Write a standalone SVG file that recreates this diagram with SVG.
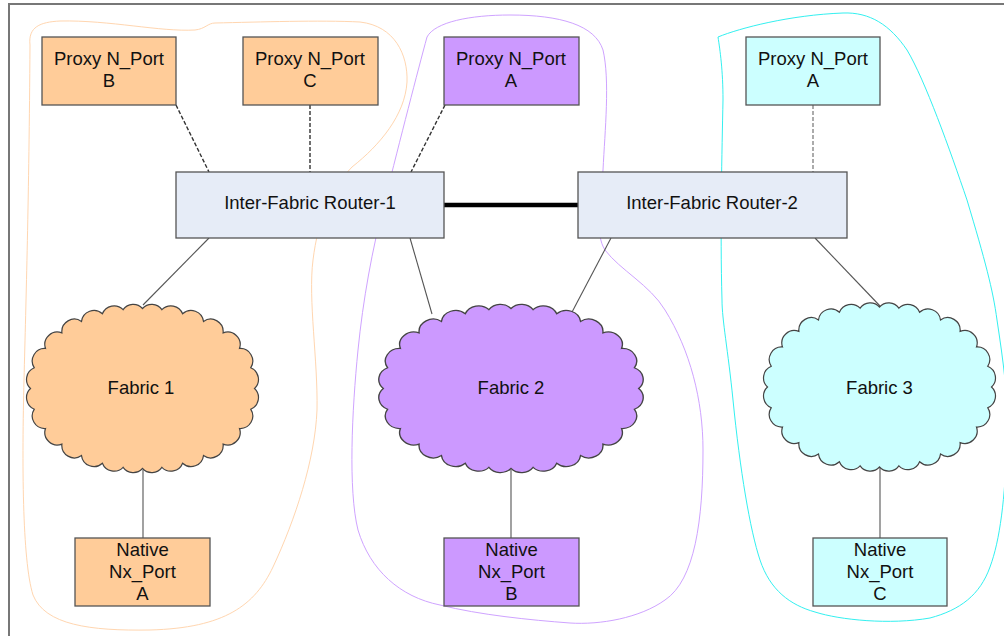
<svg xmlns="http://www.w3.org/2000/svg" xmlns:xlink="http://www.w3.org/1999/xlink" width="1004" height="636" viewBox="0 0 1004 636">
  <style>
    .lbl { font-family: "Liberation Sans", Arial, sans-serif; font-size: 18.5px; fill: #111; text-anchor: middle; }
    .box { stroke: #555; stroke-width: 1.3; }
    .orange { fill: #FFCC99; }
    .purple { fill: #CC99FF; }
    .cyan { fill: #CCFFFF; }
    .router { fill: #E6ECF7; }
    .cloud { stroke: #444; stroke-width: 1.2; }
    .link { stroke: #555; stroke-width: 1.1; fill: none; }
    .dash { stroke: #333; stroke-width: 1.4; stroke-dasharray: 4 2; fill: none; }
    .dash-light { stroke: #888; stroke-width: 1.4; stroke-dasharray: 4 2; fill: none; }
    .trunk { stroke: #000; stroke-width: 4.5; fill: none; }
    .zone { fill: none; stroke-width: 1; }
  </style>
  <defs>
    <!-- scalloped cloud outline centred on the origin, 28 bumps -->
    <path id="cloud" d="M112,0
      A12.5,12.5 0 0 1 108.2,20.7 A12.5,12.5 0 0 1 97,40 A12.5,12.5 0 0 1 80.6,55.6 A12.5,12.5 0 0 1 61,67.1
      A12.5,12.5 0 0 1 40.1,74.7 A12.5,12.5 0 0 1 19.4,78.8 A12.5,12.5 0 0 1 0,80
      A12.5,12.5 0 0 1 -19.4,78.8 A12.5,12.5 0 0 1 -40.1,74.7 A12.5,12.5 0 0 1 -61,67.1 A12.5,12.5 0 0 1 -80.6,55.6
      A12.5,12.5 0 0 1 -97,40 A12.5,12.5 0 0 1 -108.2,20.7 A12.5,12.5 0 0 1 -112,0
      A12.5,12.5 0 0 1 -108.2,-20.7 A12.5,12.5 0 0 1 -97,-40 A12.5,12.5 0 0 1 -80.6,-55.6 A12.5,12.5 0 0 1 -61,-67.1
      A12.5,12.5 0 0 1 -40.1,-74.7 A12.5,12.5 0 0 1 -19.4,-78.8 A12.5,12.5 0 0 1 0,-80
      A12.5,12.5 0 0 1 19.4,-78.8 A12.5,12.5 0 0 1 40.1,-74.7 A12.5,12.5 0 0 1 61,-67.1 A12.5,12.5 0 0 1 80.6,-55.6
      A12.5,12.5 0 0 1 97,-40 A12.5,12.5 0 0 1 108.2,-20.7 A12.5,12.5 0 0 1 112,0 Z"/>
  </defs>

  <rect x="0" y="0" width="1004" height="636" fill="#fff"/>

  <!-- page frame (left and top edges) -->
  <path d="M9,636 V4 H1004" fill="none" stroke="#777" stroke-width="2"/>

  <!-- fabric zones -->
  <g id="zones">
    <path id="zone-1" class="zone" stroke="#FFD6B0" d="M30,45 C28,27 40,22 60,21 C110,20 160,32 195,30 C205,29 208,23 215,23 C260,22 320,20 360,22 C395,26 408,55 407,82 C405,115 380,145 352,167 C330,190 318,220 313,260 C308,300 318,360 317,410 C315,460 295,520 273,567 C255,605 225,628 150,630 C90,631 45,625 33,595 C22,560 22,460 24,380 C26,300 29,200 30,45 Z"/>
    <path id="zone-2" class="zone" stroke="#CFA3FF" d="M427,37 C435,22 470,15 510,15 C560,15 595,25 603,50 C610,80 605,130 603,170 C600,205 595,235 605,250 C620,270 650,285 665,310 C690,350 703,400 703,450 C703,520 695,580 665,600 C640,618 600,625 570,623 C530,620 480,615 440,605 C400,597 370,570 358,530 C348,490 352,410 358,350 C363,300 372,250 385,200 C400,140 418,70 427,37 Z"/>
    <path id="zone-3" class="zone" stroke="#33F0F0" d="M718,37 C740,28 790,15 843,13 C870,12 890,25 907,50 C925,80 950,150 967,200 C985,260 993,290 997,320 C1003,360 1009,400 1007,440 C1005,500 1000,540 990,567 C980,595 960,610 930,618 C890,625 840,620 815,612 C790,605 770,590 760,560 C750,530 740,470 733,400 C728,350 722,320 722,300 C720,230 722,150 723,100 C723,70 720,50 718,37 Z"/>
  </g>

  <!-- connectors -->
  <g id="connectors">
    <line class="dash" x1="176" y1="105" x2="209" y2="172"/>
    <line class="dash" x1="310" y1="105" x2="310" y2="172"/>
    <line class="dash" x1="445" y1="105" x2="411" y2="172"/>
    <line class="dash-light" x1="813" y1="105" x2="813" y2="172"/>
    <line class="trunk" x1="444" y1="205" x2="578" y2="205"/>
    <line class="link" x1="209" y1="238" x2="143" y2="305"/>
    <line class="link" x1="410" y1="238" x2="432" y2="314"/>
    <line class="link" x1="611" y1="238" x2="571" y2="314"/>
    <line class="link" x1="815" y1="238" x2="880" y2="306"/>
    <line class="link" x1="143" y1="470" x2="143" y2="538"/>
    <line class="link" x1="511" y1="470" x2="511" y2="538"/>
    <line class="link" x1="880" y1="468" x2="880" y2="538"/>
  </g>

  <g id="proxy-b">
    <rect class="box orange" x="42" y="37" width="134" height="68"/>
    <text class="lbl" x="109" y="65">Proxy N_Port</text>
    <text class="lbl" x="109" y="87">B</text>
  </g>
  <g id="proxy-c">
    <rect class="box orange" x="243" y="37" width="135" height="68"/>
    <text class="lbl" x="310" y="65">Proxy N_Port</text>
    <text class="lbl" x="310" y="87">C</text>
  </g>
  <g id="proxy-a-2">
    <rect class="box purple" x="444" y="37" width="135" height="68"/>
    <text class="lbl" x="511" y="65">Proxy N_Port</text>
    <text class="lbl" x="511" y="87">A</text>
  </g>
  <g id="proxy-a-3">
    <rect class="box cyan" x="746" y="37" width="134" height="68"/>
    <text class="lbl" x="813" y="65">Proxy N_Port</text>
    <text class="lbl" x="813" y="87">A</text>
  </g>

  <g id="router-1">
    <rect class="box router" x="176" y="172" width="268" height="66"/>
    <text class="lbl" x="310" y="209">Inter-Fabric Router-1</text>
  </g>
  <g id="router-2">
    <rect class="box router" x="578" y="172" width="269" height="66"/>
    <text class="lbl" x="712" y="209">Inter-Fabric Router-2</text>
  </g>

  <g id="fabric-1">
    <use xlink:href="#cloud" href="#cloud" class="cloud orange" transform="translate(142.5,388.5)"/>
    <text class="lbl" x="141" y="394">Fabric 1</text>
  </g>
  <g id="fabric-2">
    <use xlink:href="#cloud" href="#cloud" class="cloud purple" vector-effect="non-scaling-stroke" transform="translate(511,388.5) scale(1.14,1)"/>
    <text class="lbl" x="511" y="394">Fabric 2</text>
  </g>
  <g id="fabric-3">
    <use xlink:href="#cloud" href="#cloud" class="cloud cyan" transform="translate(879.5,387)"/>
    <text class="lbl" x="879.5" y="394">Fabric 3</text>
  </g>

  <g id="native-a">
    <rect class="box orange" x="75" y="538" width="135" height="68"/>
    <text class="lbl" x="142.5" y="556">Native</text>
    <text class="lbl" x="142.5" y="578">Nx_Port</text>
    <text class="lbl" x="142.5" y="600">A</text>
  </g>
  <g id="native-b">
    <rect class="box purple" x="444" y="538" width="135" height="68"/>
    <text class="lbl" x="511.5" y="556">Native</text>
    <text class="lbl" x="511.5" y="578">Nx_Port</text>
    <text class="lbl" x="511.5" y="600">B</text>
  </g>
  <g id="native-c">
    <rect class="box cyan" x="813" y="538" width="134" height="68"/>
    <text class="lbl" x="880" y="556">Native</text>
    <text class="lbl" x="880" y="578">Nx_Port</text>
    <text class="lbl" x="880" y="600">C</text>
  </g>
</svg>
